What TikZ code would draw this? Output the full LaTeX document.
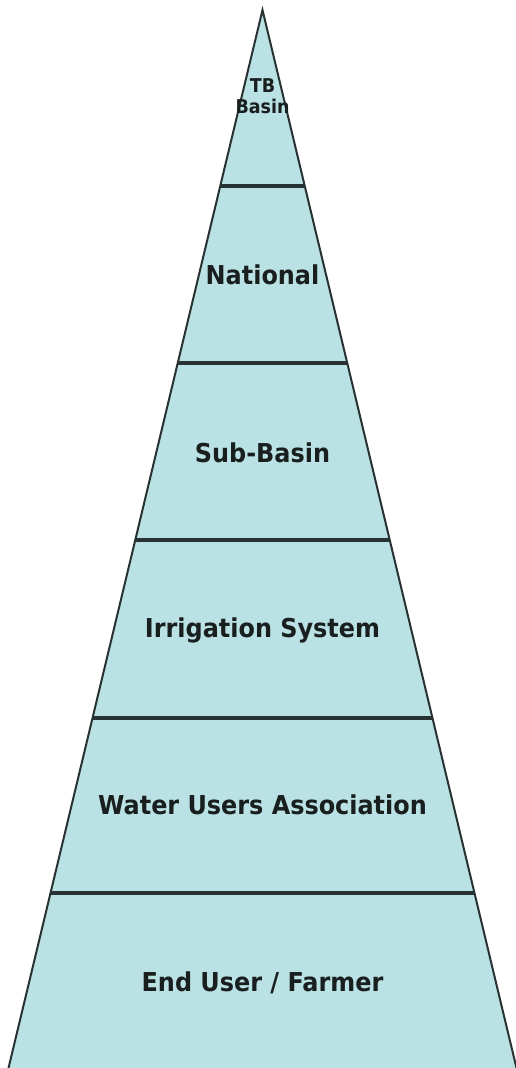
\documentclass[tikz,border=0pt]{standalone}
\usepackage{fontspec}
\setmainfont{DejaVu Sans}[FakeStretch=0.92]
\definecolor{levelfill}{RGB}{186,225,228}
\definecolor{levelline}{RGB}{40,50,50}
\definecolor{leveltext}{RGB}{25,30,30}
\begin{document}
\begin{tikzpicture}[x=1pt, y=-1pt]
    \tikzset{
        edge/.style={draw=levelline, line width=2pt, line join=miter},
        sep/.style={draw=levelline, line width=3.2pt},
        level/.style={font=\bfseries\fontsize{26}{30}\selectfont, text=leveltext, inner sep=0pt}
    }
    \useasboundingbox (0,0) rectangle (516,1068);
    \coordinate (apex) at (262.5,10);
    \coordinate (bl) at (8.5,1068);
    \coordinate (br) at (516.5,1068);

    % Triangolo
    \fill[levelfill] (apex) -- (br) -- (bl) -- cycle;

    % Separatori
    \foreach \y in {186,363,540,718,893}
        \draw[sep] ({262.5-0.2401*(\y-10)},\y) -- ({262.5+0.2401*(\y-10)},\y);
    \draw[edge] (bl) -- (apex) -- (br);

    % Livelli
    \node[level, font=\bfseries\fontsize{19}{21}\selectfont, align=center] (tb) at (262.5,96) {TB\\Basin};
    \node[level] (national) at (262.5,275) {National};
    \node[level] (subbasin) at (262.5,453) {Sub-Basin};
    \node[level] (irrigation) at (262.5,630) {Irrigation System};
    \node[level] (wua) at (262.5,805) {Water Users Association};
    \node[level] (farmer) at (262.5,983) {End User / Farmer};
\end{tikzpicture}
\end{document}
